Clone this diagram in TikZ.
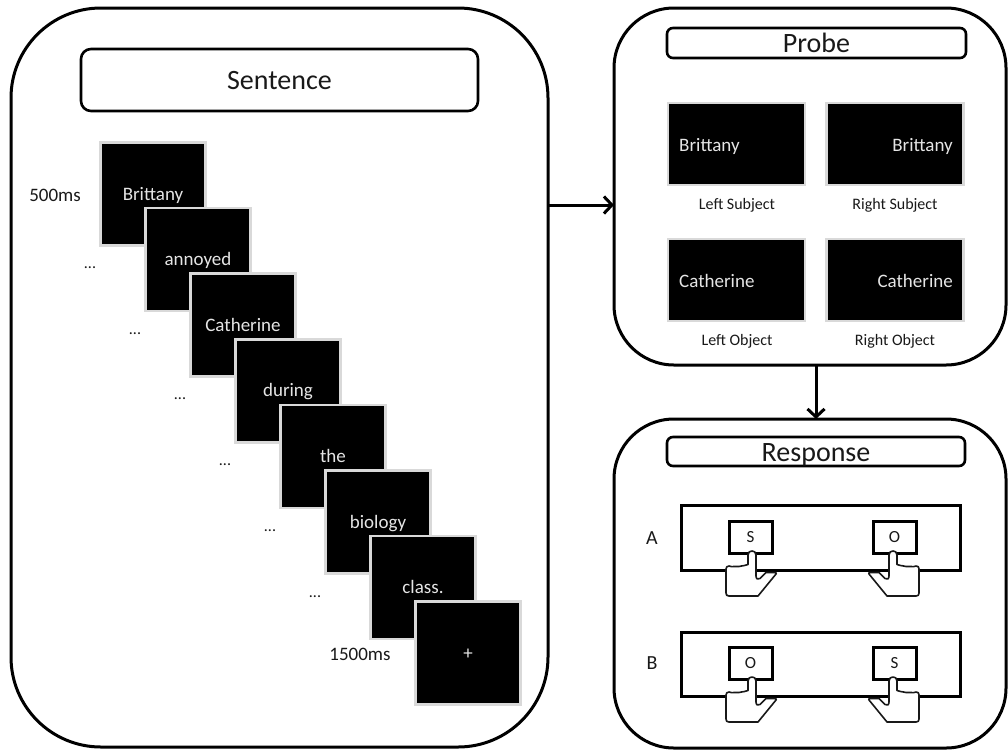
\documentclass[tikz,border=0pt]{standalone}
\usepackage{fontspec}
\setmainfont{Carlito}
\usetikzlibrary{arrows.meta}
\definecolor{scrtext}{gray}{0.9}
\definecolor{scredge}{gray}{0.85}
\definecolor{ink}{gray}{0.1}
\tikzset{
  panel/.style={draw=black,line width=3pt,fill=white,rounded corners=#1,inner sep=0pt,outer sep=0pt},
  titlebox/.style={draw=black,line width=2.6pt,fill=white,rounded corners=#1,inner sep=0pt,outer sep=0pt,text=ink,font=\fontsize{28}{30}\selectfont,text height=21pt,text depth=3pt},
  screen/.style={draw=scredge,line width=2.6pt,fill=black,inner sep=0pt,outer sep=0pt,text=scrtext,
    font=\fontsize{19}{20}\selectfont,text height=14pt,text depth=2pt},
  word/.style={inner sep=0pt,text=ink,font=\fontsize{#1}{20}\selectfont},
  word/.default=16,
  padframe/.style={draw=black,line width=3pt,fill=white,inner sep=0pt,outer sep=0pt},
  keybox/.style={draw=black,line width=3pt,fill=white,inner sep=0pt,outer sep=0pt,text=ink,
    minimum width=43pt,minimum height=32pt,font=\fontsize{17}{20}\selectfont},
  flow/.style={draw=black,line width=3pt,-{Straight Barb[length=8pt,width=17pt,line width=3pt]}},
  hand/.pic={
    \draw[line width=1.6pt,fill=white,line join=round,draw=ink]
      (-4,4) .. controls (-4,1) and (-2,0) .. (0,0) .. controls (2,0) and (4,1) .. (4,4)
      -- (4,25) .. controls (4,28) and (6,29) .. (8,27.5)
      -- (14,21.5) -- (23,21.5) .. controls (24.5,21.5) and (24.5,22.5) .. (24,23)
      -- (6,45) -- (-23,45) .. controls (-25,45) and (-26,44) .. (-26,42)
      -- (-26,18) .. controls (-26,16) and (-25,15) .. (-23,15)
      .. controls (-21,15) and (-20,16.5) .. (-18,15.5) .. controls (-16,14.5) and (-15,16.5) .. (-13,15.5)
      .. controls (-11,14.5) and (-10,15.5) .. (-4,13.5) -- cycle;
  }
}
\begin{document}
\begin{tikzpicture}[x=1pt,y=-1pt]
\useasboundingbox (0,0) rectangle (1008,750);
\fill[white] (0,0) rectangle (1008,750);
% panels
\node[panel=90pt,minimum width=537pt,minimum height=739pt] (sent) at (279.5,377.5) {};
\node[panel=60pt,minimum width=392pt,minimum height=357pt] (probe) at (810,186.5) {};
\node[panel=60pt,minimum width=392pt,minimum height=329pt] (resp) at (810,583.5) {};
% titles
\node[titlebox=10pt,minimum width=397pt,minimum height=62pt] (tsent) at (279.5,80) {Sentence};
\node[titlebox=6pt,minimum width=299pt,minimum height=30pt] (tprobe) at (816.5,43) {Probe};
\node[titlebox=6pt,minimum width=298pt,minimum height=29pt,text height=22pt,text depth=2pt] (tresp) at (816,451.5) {Response};
% sentence screens
\foreach \i/\w in {0/Brittany,1/annoyed,2/Catherine,3/during,4/the,5/biology,6/class.,7/+}{
  \pgfmathsetmacro\cx{153+45*\i}
  \pgfmathsetmacro\cy{194+65.6*\i}
  \node[screen,minimum width=105pt,minimum height=103pt] (s\i) at (\cx,\cy) {\w};
}
\node[word=19] (t500) at (55,195) {500ms};
\node[word=19] (t1500) at (360,654) {1500ms};
\foreach \i/\cx/\cy in {1/90/268,2/135/334,3/180/399,4/225/465,5/270/531,6/315/597}{
  \node[word=16] (d\i) at (\cx,\cy) {...};
}
% probe screens
\tikzset{pscreen/.style={screen,minimum width=137pt,minimum height=82pt}}
\node[pscreen] (p1) at (736.5,144) {};
\node[pscreen] (p2) at (895,144) {};
\node[pscreen] (p3) at (736.5,280) {};
\node[pscreen] (p4) at (895,280) {};
\tikzset{pword/.style={text=scrtext,inner sep=0pt,font=\fontsize{19}{20}\selectfont,text height=14pt,text depth=2pt}}
\node[pword,anchor=west] (w1) at (679,145) {Brittany};
\node[pword,anchor=east] (w2) at (953,145) {Brittany};
\node[pword,anchor=west] (w3) at (679,281) {Catherine};
\node[pword,anchor=east] (w4) at (953,281) {Catherine};
\node[word] (l1) at (737,205) {Left Subject};
\node[word] (l2) at (895,205) {Right Subject};
\node[word] (l3) at (737,341) {Left Object};
\node[word] (l4) at (895,341) {Right Object};
% response frames
\node[word=20] (la) at (652,538) {A};
\node[word=20] (lb) at (652,663) {B};
\node[padframe,minimum width=279pt,minimum height=65pt] (fa) at (820.5,537.5) {};
\node[padframe,minimum width=279pt,minimum height=64pt] (fb) at (820.5,664) {};
\node[keybox] (k1) at (750.5,537) {S};
\node[keybox] (k2) at (894.5,537) {O};
\node[keybox] (k3) at (750.5,663) {O};
\node[keybox] (k4) at (894.5,663) {S};
\pic at (752,551) {hand};
\pic[xscale=-1] at (893,551) {hand};
\pic at (752,677) {hand};
\pic[xscale=-1] at (893,677) {hand};
% connectors
\coordinate (ay) at (0,205);
\coordinate (ax) at (816,0);
\draw[flow] (sent.east |- ay) -- (probe.west |- ay);
\draw[flow] (ax |- probe.south) -- (ax |- resp.north);
\end{tikzpicture}
\end{document}
